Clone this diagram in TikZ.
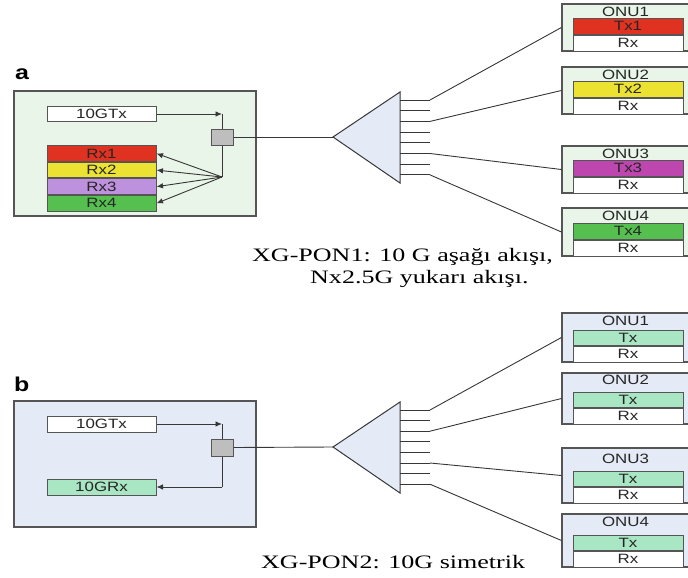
\documentclass[tikz,border=0pt]{standalone}
\usepackage{fontspec}
\setsansfont[FakeStretch=1.25]{Liberation Sans}
\newfontfamily\capfont[FakeStretch=1.37]{Liberation Serif}
\usepackage{tikz}
\usetikzlibrary{arrows.meta,positioning}
\usepackage{xcolor}
\definecolor{framegrey}{RGB}{85,85,85}
\definecolor{wiregrey}{RGB}{55,55,55}
\definecolor{panelgreen}{RGB}{232,245,232}
\definecolor{panelblue}{RGB}{228,234,246}
\definecolor{rxred}{RGB}{224,50,32}
\definecolor{rxyellow}{RGB}{236,226,50}
\definecolor{rxlilac}{RGB}{190,145,222}
\definecolor{rxgreen}{RGB}{85,192,80}
\definecolor{txmagenta}{RGB}{190,70,175}
\definecolor{mint}{RGB}{168,230,196}
\definecolor{splitgrey}{RGB}{190,190,190}
\tikzset{
    panel/.style={draw=framegrey, line width=1.2pt, fill=#1,
                  minimum width=242, minimum height=125, inner sep=0pt},
    sigbox/.style={draw=framegrey, line width=1pt, fill=#1,
                   minimum width=109, minimum height=15.6, inner sep=0pt,
                   font=\sffamily\fontsize{13.5}{14}\selectfont, text=black!85},
    onubox/.style={draw=framegrey, line width=1.2pt, fill=#1,
                   minimum width=127, inner sep=0pt},
    onutitle/.style={font=\sffamily\fontsize{13.5}{14}\selectfont,
                     text=black!85, inner sep=0pt},
    combiner/.style={draw=framegrey, line width=1pt, fill=splitgrey,
                     minimum width=22, minimum height=16, inner sep=0pt},
    splitter/.style={draw=wiregrey, line width=1pt, fill=panelblue},
}

\begin{document}
\begin{tikzpicture}[
    x=1pt, y=-1pt,
    wire/.style={draw=wiregrey, line width=0.9pt},
    arr/.style={-{Latex[length=6.5pt, width=5.5pt]}, wire},
    panellabel/.style={font=\sffamily\bfseries\fontsize{20}{21}\selectfont,
                       anchor=base west, inner sep=0pt},
    caption/.style={font=\capfont\fontsize{19}{23}\selectfont,
                    anchor=base west, inner sep=0pt}
]
    \useasboundingbox (0,0) rectangle (688,578);

    % --- panel a: XG-PON1 ---
    \node[panellabel] (labA) at (15,80) {a};
    \node[panel=panelgreen] (oltA) at (135,153.5) {};
    \node[sigbox=white] (txA) at (101.5,114) {10GTx};
    \node[sigbox=rxred] (rx1A) at (101.5,153.5) {Rx1};
    \node[sigbox=rxyellow, below=0pt of rx1A] (rx2A) {Rx2};
    \node[sigbox=rxlilac, below=0pt of rx2A] (rx3A) {Rx3};
    \node[sigbox=rxgreen, below=0pt of rx3A] (rx4A) {Rx4};
    \node[combiner] (cmbA) at (222,137) {};
    \coordinate (jA) at (222,114);
    \coordinate (hubA) at (222,177);

    \draw[arr] (txA.east) -- (jA);
    \draw[wire] (jA) -- (cmbA.north);
    \draw[wire] (cmbA.south) -- (hubA);
    \draw[arr] (hubA) -- (rx1A.east);
    \draw[arr] (hubA) -- (rx2A.east);
    \draw[arr] (hubA) -- (rx3A.east);
    \draw[arr] (hubA) -- (rx4A.east);

    \coordinate (tipA) at (333,137);
    \draw[wire] (cmbA.east) -- (tipA);
    \draw[splitter] (tipA) -- (400,92) -- (400,183) -- cycle;
    \foreach \i in {1,...,8} {
        \coordinate (inA\i) at (400,{100+(\i-1)*10.7});
        \coordinate (outA\i) at (430,{100+(\i-1)*10.7});
        \draw[wire] (inA\i) -- (outA\i);
    }

    \node[onubox=panelgreen, minimum height=47] (onu1A) at (625.5,27.5) {};
    \node[onubox=panelgreen, minimum height=47] (onu2A) at (625.5,90.5) {};
    \node[onubox=panelgreen, minimum height=47] (onu3A) at (625.5,169.5) {};
    \node[onubox=panelgreen, minimum height=48] (onu4A) at (625.5,232) {};
    \foreach \n/\c in {1/rxred, 2/rxyellow, 3/txmagenta, 4/rxgreen} {
        \node[onutitle] at ([yshift=-8pt]onu\n A.north) {ONU\n};
        \node[sigbox=white, minimum width=110, minimum height=16, anchor=south]
            (orx\n A) at ([xshift=2.5pt]onu\n A.south) {Rx};
        \node[sigbox=\c, minimum width=110, minimum height=16, above=0pt of orx\n A]
            (otx\n A) {Tx\n};
    }
    \draw[wire] (outA1) -- (onu1A.west);
    \draw[wire] (outA3) -- (onu2A.west);
    \draw[wire] (outA6) -- (onu3A.west);
    \draw[wire] (outA8) -- (onu4A.west);

    \node[caption] (capA1) at (252,261) {XG-PON1: 10 G aşağı akışı,};
    \node[caption] (capA2) at (310,283) {Nx2.5G yukarı akışı.};

    % --- panel b: XG-PON2 ---
    \node[panellabel] (labB) at (14,391) {b};
    \node[panel=panelblue, minimum height=126] (oltB) at (135,464) {};
    \node[sigbox=white, minimum height=16] (txB) at (101.5,424) {10GTx};
    \node[sigbox=mint, minimum height=16] (rxB) at (101.5,487) {10GRx};
    \node[combiner, minimum height=17] (cmbB) at (222,447.5) {};
    \coordinate (jB) at (222,424);
    \coordinate (hubB) at (222,487);

    \draw[arr] (txB.east) -- (jB);
    \draw[wire] (jB) -- (cmbB.north);
    \draw[wire] (cmbB.south) -- (hubB);
    \draw[arr] (hubB) -- (rxB.east);

    \coordinate (tipB) at (333,447);
    \draw[wire] (cmbB.east) -- (tipB);
    \draw[splitter] (tipB) -- (400,402) -- (400,493) -- cycle;
    \foreach \i in {1,...,8} {
        \coordinate (inB\i) at (400,{410+(\i-1)*10.6});
        \coordinate (outB\i) at (430,{410+(\i-1)*10.6});
        \draw[wire] (inB\i) -- (outB\i);
    }

    \node[onubox=panelblue, minimum height=49] (onu1B) at (625.5,337.5) {};
    \node[onubox=panelblue, minimum height=51] (onu2B) at (625.5,398.5) {};
    \node[onubox=panelblue, minimum height=55] (onu3B) at (625.5,475.5) {};
    \node[onubox=panelblue, minimum height=53] (onu4B) at (625.5,540.5) {};
    \foreach \n/\t in {1/8, 2/7.5, 3/11, 4/8} {
        \node[onutitle] at ([yshift=-\t pt]onu\n B.north) {ONU\n};
        \node[sigbox=white, minimum width=110, minimum height=15.5, anchor=south]
            (orx\n B) at ([xshift=2.5pt]onu\n B.south) {Rx};
        \node[sigbox=mint, minimum width=110, minimum height=15.5, above=0pt of orx\n B]
            (otx\n B) {Tx};
    }
    \draw[wire] (outB1) -- (onu1B.west);
    \draw[wire] (outB3) -- (onu2B.west);
    \draw[wire] (outB6) -- (onu3B.west);
    \draw[wire] (outB8) -- (onu4B.west);

    \node[caption] (capB) at (261,568) {XG-PON2: 10G simetrik};
\end{tikzpicture}
\end{document}
